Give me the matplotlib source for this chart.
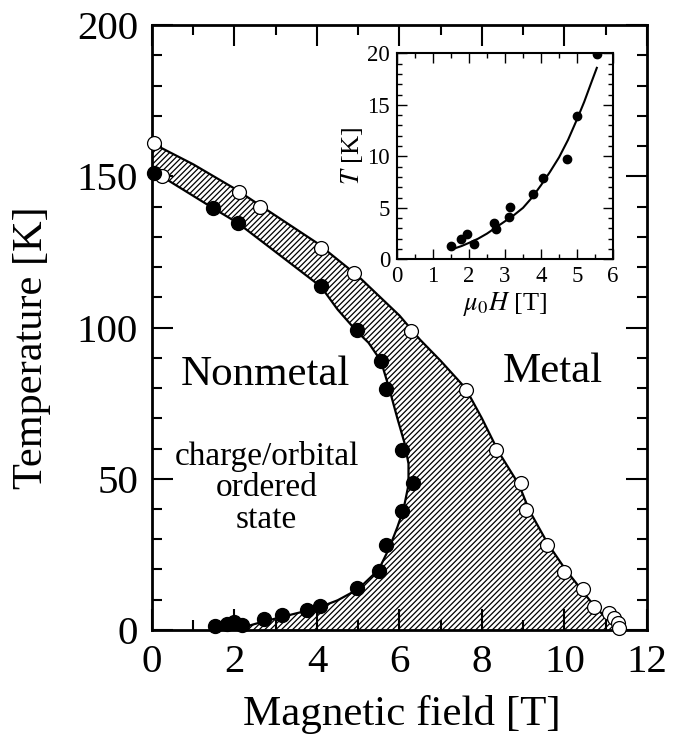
import numpy as np
import matplotlib.pyplot as plt
from matplotlib.ticker import MultipleLocator

plt.rcParams['font.family'] = ['Liberation Serif', 'DejaVu Serif']
plt.rcParams['mathtext.fontset'] = 'stix'
plt.rcParams['hatch.linewidth'] = 0.9

# main panel: transition points (field in T, temperature in K)
open_B = [0.05, 0.25, 2.1, 2.62, 4.11, 4.91, 6.29, 7.61, 8.34, 8.94, 9.06,
          9.59, 9.99, 10.44, 10.72, 11.09, 11.21, 11.29, 11.33]
open_T = [161, 150, 144.7, 139.8, 126.3, 117.9, 98.9, 79.5, 59.4, 48.5, 39.7,
          28, 19.2, 13.4, 7.7, 5.7, 3.8, 2.4, 0.8]

fill_B = [0.05, 1.47, 2.08, 4.1, 4.97, 5.56, 5.67, 6.06, 6.33, 6.07, 5.68,
          5.5, 4.98, 4.07, 3.77, 3.16, 2.72, 2.19, 1.98, 1.82, 1.52]
fill_T = [151, 139.6, 134.6, 113.7, 99.2, 88.8, 79.7, 59.4, 48.6, 39.5, 28,
          19.5, 13.9, 8, 6.6, 4.8, 3.6, 1.5, 2.6, 2.1, 1.4]

# boundary lines of the hatched region
upper_B = [0, 1, 2, 3, 4, 5, 5.5, 6, 6.5, 7, 7.6, 8, 8.4, 8.9, 9.15, 9.6,
           10, 10.4, 10.75, 11.05, 11.32]
upper_T = [161, 154, 146, 137, 128, 117, 110.5, 104, 96, 89, 80, 70, 59,
           48, 39.5, 28.5, 20.5, 13.5, 7.5, 3.5, 0]

lower_B = [2.0, 2.5, 3.0, 3.5, 4.0, 4.5, 5.0, 5.5, 5.75, 5.95, 6.1, 6.22,
           6.22, 6.12, 5.95, 5.75, 5.55, 5.25, 4.95, 4.5, 4.1, 3.0, 2.08,
           1.47, 0]
lower_T = [0, 2, 3.8, 5.5, 7.2, 9.8, 13.5, 20, 27, 34, 40, 48, 55, 62, 70,
           80, 89, 95, 99, 106, 113.5, 125, 134.6, 139.6, 152]

# inset: low temperature part
ins_H = [1.49, 1.77, 1.94, 2.13, 2.69, 2.76, 3.13, 3.12, 3.77, 4.06, 4.72,
         5.0, 5.55]
ins_T = [1.33, 1.94, 2.43, 1.52, 3.5, 2.9, 5.05, 4.08, 6.3, 7.86, 9.7,
         13.9, 19.9]
ins_curve_H = [1.55, 1.8, 2.0, 2.25, 2.5, 2.75, 3.0, 3.25, 3.5, 3.75, 4.0,
               4.25, 4.5, 4.75, 5.0, 5.2, 5.4, 5.55]
ins_curve_T = [1.0, 1.3, 1.6, 2.0, 2.5, 3.1, 3.7, 4.3, 5.0, 6.0, 7.2,
               8.5, 9.9, 11.6, 13.6, 15.3, 17.2, 18.6]

fig = plt.figure(figsize=(6.77, 7.42), dpi=100)
ax = fig.add_axes([0.2245, 0.151, 0.731, 0.815])

poly_B = upper_B + lower_B
poly_T = upper_T + lower_T
ax.fill(poly_B, poly_T, facecolor='white', edgecolor='black',
        hatch='//////', linewidth=0)
ax.plot(upper_B, upper_T, 'k-', lw=1.6)
ax.plot(lower_B, lower_T, 'k-', lw=1.6)

ax.plot(open_B, open_T, 'o', mfc='white', mec='black', ms=10, mew=0.9,
        clip_on=False, zorder=3)
ax.plot(fill_B, fill_T, 'o', color='black', ms=10, clip_on=False, zorder=4)

ax.set_xlim(0, 12)
ax.set_ylim(0, 200)
ax.xaxis.set_major_locator(MultipleLocator(2))
ax.xaxis.set_minor_locator(MultipleLocator(1))
ax.yaxis.set_major_locator(MultipleLocator(50))
ax.yaxis.set_minor_locator(MultipleLocator(10))
ax.tick_params(which='both', direction='in', top=True, right=True,
               labelsize=29.5, width=1.5)
ax.tick_params(which='major', length=15, pad=10)
ax.tick_params(which='minor', length=7)
for s in ax.spines.values():
    s.set_linewidth(2)

ax.set_xlabel('Magnetic field [T]', fontsize=31, va='top')
ax.set_ylabel('Temperature [K]', fontsize=30.5)
ax.xaxis.set_label_coords(0.505, -0.108)
ax.yaxis.set_label_coords(-0.205, 0.467)

ax.text(2.74, 84.5, 'Nonmetal', fontsize=31, ha='center', va='center')
ax.text(9.72, 85.5, 'Metal', fontsize=31, ha='center', va='center')
ax.text(2.78, 47, 'charge/orbital\nordered\nstate', fontsize=24,
        ha='center', va='center', linespacing=1.05)

# inset
ins = fig.add_axes([0.5864, 0.6505, 0.3191, 0.2775])
ins.plot(ins_curve_H, ins_curve_T, 'k-', lw=1.5)
ins.plot(ins_H, ins_T, 'o', color='black', ms=6)
ins.set_xlim(0, 6)
ins.set_ylim(0, 20)
ins.xaxis.set_major_locator(MultipleLocator(1))
ins.xaxis.set_minor_locator(MultipleLocator(0.5))
ins.yaxis.set_major_locator(MultipleLocator(5))
ins.yaxis.set_minor_locator(MultipleLocator(1))
ins.tick_params(which='both', direction='in', top=True, right=True,
                labelsize=16.5, width=1)
ins.tick_params(which='major', length=7, pad=5)
ins.tick_params(which='minor', length=3.5)
for s in ins.spines.values():
    s.set_linewidth(1.5)
ins.set_xlabel(r'$\mu_\mathit{0}H$ [T]', fontsize=19, labelpad=2)
ins.set_ylabel(r'$T$ [K]', fontsize=19, labelpad=2)

fig.savefig('out.png', dpi=100)
